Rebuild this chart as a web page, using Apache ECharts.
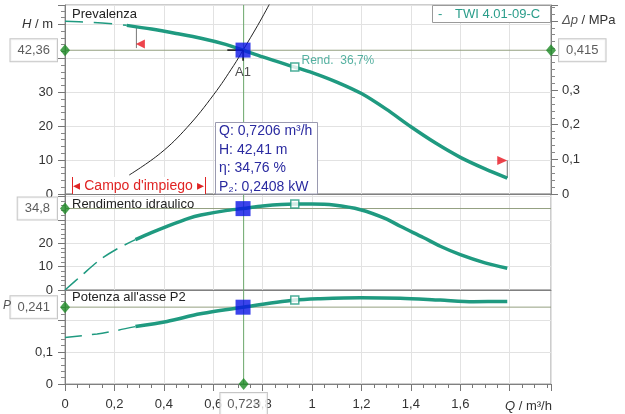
<!DOCTYPE html>
<html><head><meta charset="utf-8">
<script src="https://cdn.jsdelivr.net/npm/echarts@6/dist/echarts.min.js"></script>
<style>html,body{margin:0;padding:0;background:#fff}#c{width:625px;height:414px}</style>
</head><body><div id="c"></div>
<script>
// ---- data ----
const qHeadDash = [0, 0.1, 0.2, 0.25];
const headDash  = [50.9, 50.6, 50.1, 49.7];
const qHead = [0.25, 0.35, 0.45, 0.55, 0.65, 0.7206, 0.8, 0.93, 1.0, 1.1, 1.2, 1.3, 1.4, 1.5, 1.6, 1.7, 1.79];
const head  = [49.7, 48.6, 47.3, 45.9, 44.1, 42.41, 40.4, 37.4, 35.8, 33.0, 29.6, 25.0, 19.8, 15.0, 10.8, 7.4, 4.7];
const qSys = [0.26, 0.386, 0.494, 0.602, 0.683, 0.7206, 0.78, 0.83];
const sysH = [5.6, 12.0, 19.6, 29.3, 37.9, 42.41, 49.7, 56.3];
const qEffDash = [0, 0.07, 0.14, 0.21, 0.285];
const effDash  = [0, 6.5, 12.8, 17.5, 21.5];
const qEff = [0.285, 0.35, 0.413, 0.5, 0.55, 0.65, 0.7206, 0.8, 0.93, 1.0, 1.087, 1.196, 1.3, 1.357, 1.45, 1.519, 1.6, 1.7, 1.79];
const eff  = [21.5, 24.5, 27.2, 30.6, 32.0, 33.9, 34.76, 35.9, 36.7, 36.7, 36.3, 34.3, 30.4, 27.2, 22.4, 18.7, 15.1, 11.6, 9.3];
const qPowDash = [0, 0.13, 0.21, 0.285];
const powDash  = [0.146, 0.157, 0.168, 0.18];
const qPow = [0.285, 0.413, 0.548, 0.7206, 0.93, 1.034, 1.196, 1.357, 1.519, 1.653, 1.79];
const pow  = [0.18, 0.196, 0.22, 0.2408, 0.263, 0.2675, 0.2706, 0.269, 0.263, 0.258, 0.259];
const opQ = 0.7206, opH = 42.41, opEff = 34.76, opP = 0.2408;
const bestQ = 0.93, bestH = 37.4, bestEff = 36.7, bestP = 0.263;
const cursorQ = 0.723, cursorH = 42.36, cursorDp = 0.415, cursorEff = 34.8, cursorP = 0.241;
const flagLeftQ = 0.289, flagLeftTop = 49.2, flagLeftBottom = 43.0;
const flagRightQ = 1.79, flagRightBottom = 4.7, flagRightTop = 9.9;
const infoLines = ['Q: 0,7206 m³/h', 'H: 42,41 m', 'η: 34,76 %', 'P₂: 0,2408 kW'];

const Q_MAX = 1.967, H_MAX = 55.7, DP_MAX = H_MAX / 102.07, EFF_MAX = 41, P_MAX = 0.2947;
const TEAL = '#1f9a80', DIAM = '#1c8a24', MLINE = '#94a080', CURS = '#6aa66a';
const FONT = 'Liberation Sans, Arial, sans-serif';

const zip = (a, b) => a.map((v, i) => [v, b[i]]);
const fmt = v => String(+(+v).toFixed(3)).replace('.', ',');
const near = (a, b) => Math.abs(a - b) < 1e-6;

const chart = echarts.init(document.getElementById('c'));
const grids = [
  {left: 65, right: 74, top: 5, height: 189},
  {left: 65, right: 74, top: 194, height: 96},
  {left: 65, right: 74, top: 290, height: 94}
].map(g => Object.assign(g, {show: true, borderColor: '#9a9a9a', borderWidth: 1}));

function xAx(i, bottom) {
  return {
    type: 'value', gridIndex: i, min: 0, max: Q_MAX, interval: 0.2,
    axisLine: {show: true, onZero: false, lineStyle: {color: '#808080'}},
    axisTick: {show: bottom, length: 7, lineStyle: {color: '#777'}},
    minorTick: {show: bottom, splitNumber: 4, length: 4, lineStyle: {color: '#777'}},
    splitLine: {show: true, lineStyle: {color: '#e2e2e2'}},
    axisLabel: {show: bottom, fontFamily: FONT, fontSize: 13, color: '#333', margin: 14, showMaxLabel: false,
      formatter: v => (near(v, 1.8) ? '' : fmt(v))}
  };
}
function yAx(i, max, interval, hide, pos) {
  return {
    type: 'value', gridIndex: i, min: 0, max: max, interval: interval, position: pos,
    axisLine: {show: true, lineStyle: {color: '#808080'}},
    axisTick: {show: true, length: 7, lineStyle: {color: '#777'}},
    minorTick: {show: true, splitNumber: 5, length: 4, lineStyle: {color: '#888'}},
    splitLine: {show: pos !== 'right', lineStyle: {color: '#e2e2e2'}},
    axisLabel: {fontFamily: FONT, fontSize: 13, color: '#333', margin: 12, showMaxLabel: false,
      formatter: v => (hide.some(h => near(v, h)) ? '' : fmt(v))}
  };
}

const yAxes = [
  yAx(0, H_MAX, 10, [40], 'left'),
  yAx(0, DP_MAX, 0.1, [0.4], 'right'),
  yAx(1, EFF_MAX, 10, [30, 40], 'left'),
  yAx(2, P_MAX, 0.1, [0.2], 'left')
];
yAxes[0].axisLabel.formatter = v => near(v, 50) ? '{i|H} / m' : (near(v, 40) ? '' : fmt(v));
yAxes[0].axisLabel.rich = {i: {fontStyle: 'italic', fontFamily: FONT, fontSize: 13, color: '#333'}};
yAxes[1].axisLabel.formatter = v => near(v, 0.5) ? '{i|Δp} / MPa' : (near(v, 0.4) ? '' : fmt(v));
yAxes[1].axisLabel.rich = {i: {fontStyle: 'italic', fontFamily: FONT, fontSize: 13, color: '#555'}};
yAxes[1].axisLabel.margin = 11;

function line(xi, yi, data, opts) {
  return Object.assign({
    type: 'line', xAxisIndex: xi, yAxisIndex: yi, data: data, symbol: 'none',
    smooth: 0.3, silent: true, animation: false,
    lineStyle: {color: TEAL, width: 3.5}
  }, opts || {});
}
function straight(xi, yi, data, color, width, z) {
  return {type: 'line', xAxisIndex: xi, yAxisIndex: yi, data: data, symbol: 'none', silent: true,
    animation: false, z: z || 1, lineStyle: {color: color, width: width || 1}, clip: false};
}
function pts(xi, yi, data, opts) {
  return Object.assign({type: 'scatter', xAxisIndex: xi, yAxisIndex: yi, data: data, silent: true,
    animation: false, clip: false}, opts);
}
const boxLabel = (txt, pos) => ({show: true, position: pos, formatter: txt, distance: 3,
  backgroundColor: '#fff', borderColor: '#b8b8b8', borderWidth: 1, padding: [5, 7, 4, 7],
  fontFamily: FONT, fontSize: 13, color: '#333'});

const series = [
  // cursor lines
  straight(0, 0, [[cursorQ, 0], [cursorQ, H_MAX]], CURS, 1, 1),
  straight(1, 2, [[cursorQ, 0], [cursorQ, EFF_MAX]], CURS, 1, 1),
  straight(2, 3, [[cursorQ, 0], [cursorQ, P_MAX]], CURS, 1, 1),
  straight(0, 0, [[0, cursorH], [Q_MAX, cursorH]], MLINE, 1.2, 1),
  straight(1, 2, [[0, cursorEff], [Q_MAX, cursorEff]], MLINE, 1, 1),
  straight(2, 3, [[0, cursorP], [Q_MAX, cursorP]], MLINE, 1, 1),
  // system curve
  line(0, 0, zip(qSys, sysH), {lineStyle: {color: '#222', width: 1}, smooth: 0.4, z: 3}),
  // head
  line(0, 0, zip(qHeadDash, headDash), {lineStyle: {color: TEAL, width: 1.5, type: [18, 11]}}),
  line(0, 0, zip(qHead, head), {z: 4}),
  // efficiency
  line(1, 2, zip(qEffDash, effDash), {lineStyle: {color: TEAL, width: 1.5, type: [17, 8]}}),
  line(1, 2, zip(qEff, eff), {z: 4}),
  // power
  line(2, 3, zip(qPowDash, powDash), {lineStyle: {color: TEAL, width: 1.5, type: [17, 10]}}),
  line(2, 3, zip(qPow, pow), {z: 4}),
  // flags
  straight(0, 0, [[flagLeftQ, flagLeftTop], [flagLeftQ, flagLeftBottom]], '#777', 1, 3),
  straight(0, 0, [[flagRightQ, flagRightBottom], [flagRightQ, flagRightTop]], '#777', 1, 3),
  pts(0, 0, [[flagLeftQ, flagLeftBottom]], {symbol: 'triangle', symbolSize: [9, 9], symbolRotate: 90,
    symbolOffset: [4, -4], itemStyle: {color: '#e8141e'}, z: 5}),
  pts(0, 0, [[flagRightQ, flagRightTop]], {symbol: 'triangle', symbolSize: [9, 10], symbolRotate: -90,
    symbolOffset: [-5, 0], itemStyle: {color: '#e8141e'}, z: 5}),
  // A1 cross
  straight(0, 0, [[0.657, opH], [opQ, opH]], '#111', 1.5, 5),
  straight(0, 0, [[opQ, opH], [opQ, 39.3]], '#111', 1.5, 5),
  pts(0, 0, [[opQ, 35.8]], {symbolSize: 0, label: {show: true, position: 'inside', formatter: 'A1',
    fontFamily: FONT, fontSize: 13, color: '#222'}, z: 6}),
  // best-efficiency hollow squares
  pts(0, 0, [[bestQ, bestH]], {symbol: 'rect', symbolSize: 8, itemStyle: {color: '#fff', borderColor: TEAL, borderWidth: 1.5}, z: 6,
    label: {show: true, position: 'right', distance: 2, offset: [0, -6], formatter: 'Rend.  36,7%', fontFamily: FONT, fontSize: 12, color: '#2a9d8a'}}),
  pts(1, 2, [[bestQ, bestEff]], {symbol: 'rect', symbolSize: 8, itemStyle: {color: '#fff', borderColor: TEAL, borderWidth: 1.5}, z: 6}),
  pts(2, 3, [[bestQ, bestP]], {symbol: 'rect', symbolSize: 8, itemStyle: {color: '#fff', borderColor: TEAL, borderWidth: 1.5}, z: 6}),
  // operating point
  pts(0, 0, [[opQ, opH]], {symbol: 'rect', symbolSize: 15, itemStyle: {color: '#0a14e6'}, z: 7}),
  pts(1, 2, [[opQ, opEff]], {symbol: 'rect', symbolSize: 15, itemStyle: {color: '#0a14e6'}, z: 7}),
  pts(2, 3, [[opQ, opP]], {symbol: 'rect', symbolSize: 15, itemStyle: {color: '#0a14e6'}, z: 7}),
  // cursor diamonds with value boxes
  pts(0, 0, [[0, cursorH]], {symbol: 'diamond', symbolSize: [10, 12], itemStyle: {color: DIAM}, z: 8, label: boxLabel('42,36', 'left')}),
  pts(0, 1, [[Q_MAX, cursorDp]], {symbol: 'diamond', symbolSize: [10, 12], itemStyle: {color: DIAM}, z: 8, label: boxLabel('0,415', 'right')}),
  pts(1, 2, [[0, cursorEff]], {symbol: 'diamond', symbolSize: [10, 12], itemStyle: {color: DIAM}, z: 8, label: boxLabel('34,8', 'left')}),
  pts(2, 3, [[0, cursorP]], {symbol: 'diamond', symbolSize: [10, 12], itemStyle: {color: DIAM}, z: 8, label: boxLabel('0,241', 'left')}),
  pts(2, 3, [[cursorQ, 0]], {symbol: 'diamond', symbolSize: [10, 12], itemStyle: {color: DIAM}, z: 8, label: boxLabel('0,723', 'bottom')})
];

const T = (x, y, text, o) => Object.assign({type: 'text', x: x, y: y, z: 100,
  style: Object.assign({text: text, font: '13px ' + FONT, fill: '#222', verticalAlign: 'middle'}, o || {})});

const graphic = [
  T(72, 14, 'Prevalenza'),
  T(72, 204, 'Rendimento idraulico'),
  T(72, 297, "Potenza all'asse P2"),
  T(3, 306, 'P', {fill: '#555', font: 'italic 12px ' + FONT}),
  T(505, 406, '', {rich: {i: {fontStyle: 'italic', fontFamily: FONT, fontSize: 13, fill: '#333'}, n: {fontFamily: FONT, fontSize: 13, fill: '#333'}},
    text: '{i|Q} {n|/ m³/h}'}),
  // legend
  {type: 'rect', z: 100, shape: {x: 432.5, y: 5.5, width: 118, height: 17}, style: {fill: '#fff', stroke: '#9a9a9a', lineWidth: 1}},
  T(438, 14, '-', {fill: '#2a9d8a'}),
  T(455, 14, 'TWI 4.01-09-C', {fill: '#2a9d8a', font: '13px ' + FONT}),
  // info box
  {type: 'rect', z: 100, shape: {x: 215.5, y: 122.5, width: 102, height: 71.5}, style: {fill: '#fff', stroke: '#9a9ab0', lineWidth: 1}},
  ...infoLines.map((s, i) => T(219, 131 + i * 18.7, s, {fill: '#2a2aa0', font: '14px ' + FONT})),
  // campo d'impiego
  {type: 'rect', z: 100, shape: {x: 72, y: 177, width: 133, height: 17}, style: {fill: '#fff'}},
  {type: 'line', z: 101, shape: {x1: 72.5, y1: 177, x2: 72.5, y2: 194}, style: {stroke: '#e02424', lineWidth: 1}},
  {type: 'line', z: 101, shape: {x1: 205.5, y1: 177, x2: 205.5, y2: 194}, style: {stroke: '#e02424', lineWidth: 1}},
  T(138.5, 186, "◂ Campo d'impiego ▸", {fill: '#e02424', font: '14px ' + FONT, align: 'center'})
];

chart.setOption({
  animation: false,
  grid: grids,
  xAxis: [xAx(0, false), xAx(1, false), xAx(2, true)],
  yAxis: yAxes,
  series: series,
  graphic: graphic
});
</script></body></html>
